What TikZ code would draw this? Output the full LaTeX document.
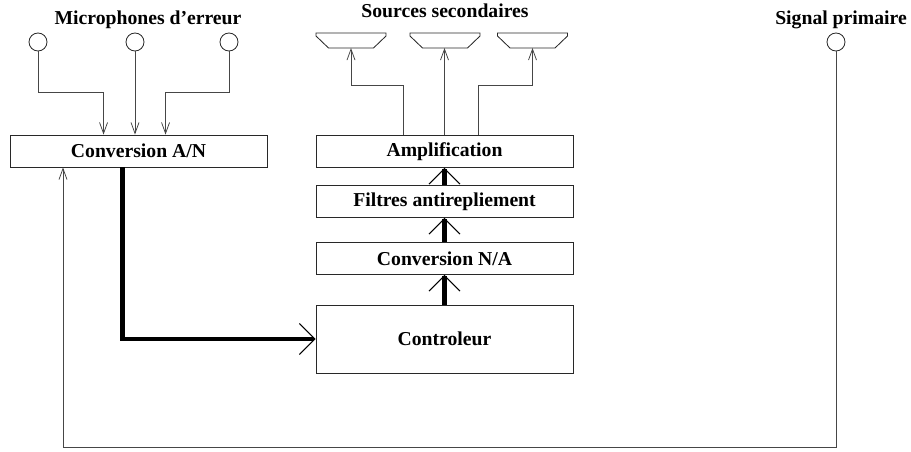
\documentclass[tikz,border=0pt]{standalone}
\usepackage{fontspec}
\setmainfont{Liberation Serif}
\usetikzlibrary{shapes.geometric, arrows.meta, positioning, calc}
\definecolor{mydark}{RGB}{40,40,40}
\definecolor{mygrey}{RGB}{70,70,70}
\tikzset{
  block/.style={rectangle, draw=mydark, line width=0.6pt,
    minimum width=6.425cm, minimum height=0.8cm, inner sep=0pt,
    font=\fontsize{14}{16}\selectfont\bfseries},
  micro/.style={circle, draw=mydark, line width=0.6pt,
    minimum size=0.45cm, inner sep=0pt},
  speakerline/.style={draw=mydark, line width=0.6pt, line join=miter},
  title/.style={anchor=base, font=\fontsize{14}{16}\selectfont\bfseries},
  thinarrow/.style={-{Straight Barb[length=7.8pt,width=5.7pt]},
    line width=0.55pt, color=mygrey},
  thickarrow/.style={-{Straight Barb[length=11pt,width=22pt,line width=0.7pt 0]},
    line width=3.5pt, color=black}
}
\begin{document}
\begin{tikzpicture}[x=0.025cm, y=-0.025cm]
  \useasboundingbox (0,0) rectangle (911,452);

  % titles
  \node[title] (tmic) at (148,25) {Microphones d’erreur};
  \node[title] (tsrc) at (445,18) {Sources secondaires};
  \node[title] (tprim) at (841,25) {Signal primaire};

  % capteurs
  \node[micro] (mic1) at (38,42) {};
  \node[micro] (mic2) at (135,42) {};
  \node[micro] (mic3) at (229,42) {};
  \node[micro] (prim) at (836,42) {};

  % haut-parleurs
  \foreach \sx [count=\i] in {351,445,532.5} {
    \coordinate (spk\i) at (\sx,48);
    \draw[speakerline] (\sx-35,33) -- (\sx+35,33) -- (\sx+35,36)
      -- (\sx+22.5,48) -- (\sx-22.5,48) -- (\sx-35,36) -- cycle;
  }

  % blocs
  \node[block] (can) at (138.5,151) {Conversion A/N};
  \node[block] (amp) at (444.5,151.5) {Amplification};
  \node[block] (filt) at (444.5,201.5) {Filtres antirepliement};
  \node[block] (cna) at (444.5,258.5) {Conversion N/A};
  \node[block, minimum height=1.7cm] (ctrl) at (444.5,339) {Controleur};

  % microphones -> conversion A/N
  \draw[thinarrow] (mic1.south) -- ++(0,41) -| ($(can.north west)+(94,0)$);
  \draw[thinarrow] (mic2.south) -- (mic2.south |- can.north);
  \draw[thinarrow] (mic3.south) -- ++(0,41) -| ($(can.north west)+(156,0)$);

  % amplification -> sources
  \draw[thinarrow] ($(amp.north west)+(88,0)$) -- ++(0,-50) -| (spk1);
  \draw[thinarrow] (amp.north) -- (amp.north |- spk2);
  \draw[thinarrow] ($(amp.north west)+(163,0)$) -- ++(0,-50) -| (spk3);

  % chaine de commande
  \draw[thickarrow] ($(can.south west)+(113,0)$) |- (ctrl.west);
  \draw[thickarrow] (ctrl.north) -- (cna.south);
  \draw[thickarrow] (cna.north) -- (filt.south);
  \draw[thickarrow] (filt.north) -- (amp.south);

  % signal primaire
  \coordinate (loop) at (63,447);
  \draw[thinarrow] (prim.south) |- (loop) -- (loop |- can.south);
\end{tikzpicture}
\end{document}
